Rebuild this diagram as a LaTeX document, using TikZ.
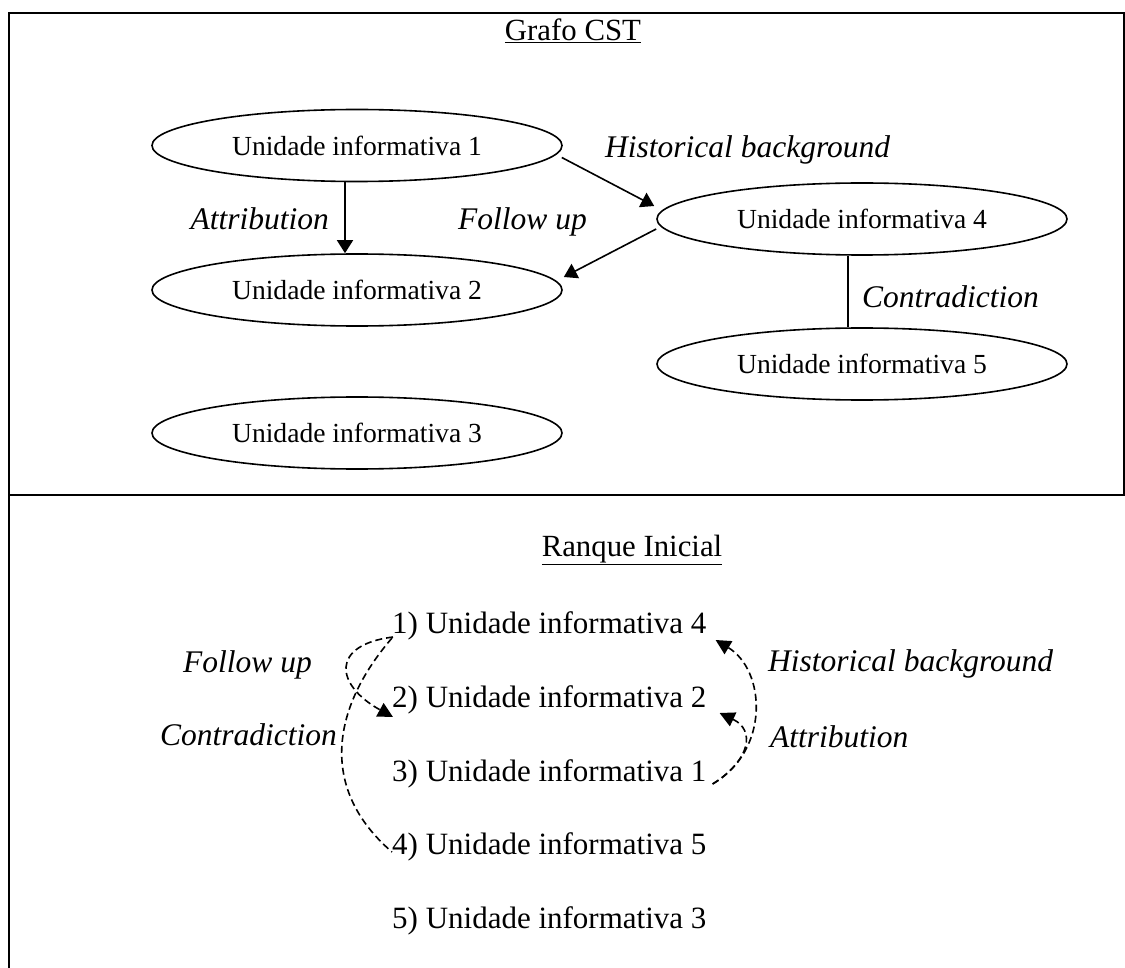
\documentclass[tikz,border=0pt]{standalone}
\usepackage{fontspec}
\setmainfont{Liberation Serif}
\usetikzlibrary{arrows.meta,shapes.geometric,calc}
\tikzset{
  unitbox/.style={ellipse, draw, line width=1.6pt, minimum width=410pt, minimum height=72pt, inner sep=0pt, font=\fontsize{27.6}{33}\selectfont},
  rel/.style={inner sep=0pt, text height=0.7em, text depth=0.25em, font=\fontsize{31.5}{38}\selectfont\itshape},
  item/.style={anchor=west, inner sep=0pt, text height=0.7em, text depth=0.25em, font=\fontsize{31}{37}\selectfont},
  ttl/.style={inner sep=0pt, font=\fontsize{30.8}{37}\selectfont},
  solidarrow/.style={line width=1.6pt, -{Triangle[length=13pt,width=16pt]}},
  dasharrow/.style={line width=1.6pt, dash pattern=on 7pt off 4pt, -{Triangle[length=15pt,width=15pt]}},
  dashline/.style={line width=1.6pt, dash pattern=on 7pt off 4pt},
  framel/.style={line width=2pt}
}
\begin{document}
\begin{tikzpicture}[x=1pt,y=-1pt]
\useasboundingbox (0,0) rectangle (1125,968);
% frame
\coordinate (tl) at (9,13.5);
\coordinate (tr) at (1125,13.5);
\coordinate (bl) at (9,968);
\coordinate (dl) at (9,495);
\coordinate (dr) at (1125,495);
\coordinate (rt) at (1124,13.5);
\coordinate (rb) at (1124,495);
\draw[framel] (tr) -- (tl) -- (bl);
\draw[framel] (dl) -- (dr);
\draw[framel] (rt) -- (rb);

% top panel
\node[ttl] (t1) at (573,31) {\underline{Grafo CST}};
\node[unitbox] (e1) at (357,145.5) {Unidade informativa 1};
\node[unitbox] (e2) at (357,290) {Unidade informativa 2};
\node[unitbox] (e3) at (357,433) {Unidade informativa 3};
\node[unitbox] (e4) at (862,219) {Unidade informativa 4};
\node[unitbox] (e5) at (862,364) {Unidade informativa 5};

\draw[solidarrow] ($(e1.south)+(-12,0)$) -- ($(e2.north)+(-12,0)$);
\draw[solidarrow] ($(e1.east)+(-1,12)$) -- ($(e4.west)+(-2,-13)$);
\draw[solidarrow] ($(e4.west)+(0,10)$) -- ($(e2.east)+(1,-13)$);
\draw[line width=1.6pt] ($(e4.south)+(-14,0)$) -- ($(e5.north)+(-14,0)$);

\node[rel, anchor=east] (la) at (329,227) {Attribution};
\node[rel, anchor=west] (lf) at (458,227) {Follow up};
\node[rel, anchor=west] (lh) at (605,155) {Historical background};
\node[rel, anchor=west] (lc) at (862,305) {Contradiction};

% bottom panel
\node[ttl] (t2) at (632,550) {\underline{Ranque Inicial}};
\node[item] (l1) at (392,631) {1) Unidade informativa 4};
\node[item] (l2) at (392,705) {2) Unidade informativa 2};
\node[item] (l3) at (392,779) {3) Unidade informativa 1};
\node[item] (l4) at (392,852) {4) Unidade informativa 5};
\node[item] (l5) at (392,926) {5) Unidade informativa 3};

\draw[dasharrow] ($(l1.west)+(1,6)$) .. controls ($(l1.west)+(-62,14)$) and ($(l2.west)+(-57,-20)$) .. ($(l2.west)+(1,12)$);
\draw[dashline] ($(l1.west)+(0,7)$) .. controls ($(l1.west)+(-62,79)$) and ($(l4.west)+(-72,-62)$) .. ($(l4.west)+(0,0)$);
\draw[dasharrow] ($(l3.east)+(6,5)$) .. controls ($(l3.east)+(64,-29)$) and ($(l1.east)+(59,39)$) .. ($(l1.east)+(9,9)$);
\draw[dasharrow] ($(l3.east)+(6,5)$) .. controls ($(l3.east)+(44,-19)$) and ($(l2.east)+(49,25)$) .. ($(l2.east)+(13,8)$);

\node[rel, anchor=east] (bf) at (312,670) {Follow up};
\node[rel, anchor=east] (bc) at (337,743) {Contradiction};
\node[rel, anchor=west] (bh) at (768,669) {Historical background};
\node[rel, anchor=west] (ba) at (770,745) {Attribution};
\end{tikzpicture}
\end{document}
